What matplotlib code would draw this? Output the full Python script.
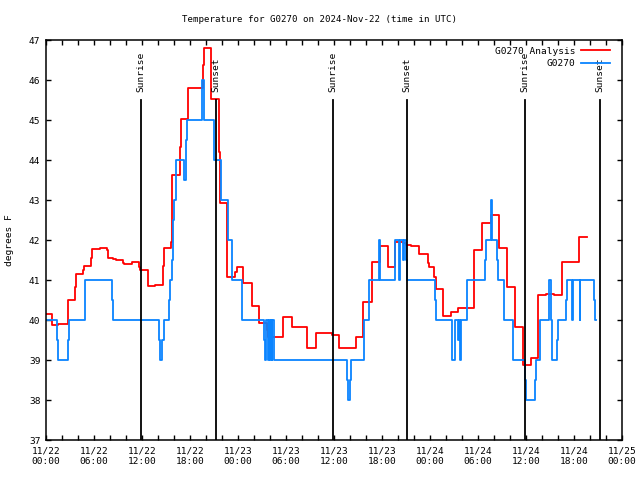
import numpy as np
import matplotlib
matplotlib.use("Agg")
import matplotlib.pyplot as plt
import matplotlib.dates as mdates

# hours after 2024-11-22 00:00 UTC, step values (deg F)
red_hours = [0.0, 0.7, 1.5, 2.7, 2.75, 3.65, 3.75, 4.65, 4.75, 5.65, 5.75, 6.75, 7.65, 7.8,
             8.4, 8.8, 9.65, 9.8, 10.7, 11.6, 11.8, 12.7, 12.8, 13.65, 13.8, 14.65, 14.8,
             15.6, 15.7, 15.8, 16.75, 16.85, 17.7, 18.55, 19.6, 19.75, 20.6, 21.6, 21.7,
             22.65, 23.6, 23.9, 24.65, 25.7, 26.65, 27.6, 27.75, 29.65, 30.7, 32.65, 33.7,
             35.7, 36.65, 37.75, 38.7, 39.65, 40.7, 41.75, 42.7, 43.65, 44.6, 45.0, 45.6,
             46.65, 47.7, 47.85, 48.5, 48.75, 49.6, 50.6, 51.55, 52.5, 53.55, 54.55, 55.6,
             56.6, 57.6, 58.6, 59.6, 60.6, 61.55, 62.5, 63.55, 64.55, 66.6, 67.6]
red_temps = [40.14, 39.87, 39.9, 40.23, 40.49, 40.82, 41.14, 41.25, 41.34, 41.54, 41.77,
             41.79, 41.74, 41.56, 41.53, 41.5, 41.43, 41.41, 41.46, 41.33, 41.24, 41.04,
             40.84, 40.87, 40.88, 41.35, 41.79, 41.96, 42.98, 43.63, 44.32, 45.02, 45.79,
             45.8, 46.37, 46.79, 45.52, 44.21, 42.92, 41.08, 41.2, 41.33, 40.92, 40.35,
             39.92, 39.75, 39.57, 40.08, 39.82, 39.29, 39.68, 39.63, 39.29, 39.31, 39.57,
             40.46, 41.46, 41.85, 41.32, 41.95, 41.92, 41.87, 41.85, 41.64, 41.43, 41.33,
             41.08, 40.77, 40.1, 40.2, 40.29, 40.3, 41.75, 42.43, 42.63, 41.79, 40.82,
             39.83, 38.88, 39.04, 40.62, 40.65, 40.62, 41.44, 42.07, 42.07]

obs_hours = [0.0, 1.4, 1.55, 2.75, 2.9, 4.9, 8.3, 8.4, 14.1, 14.2, 14.55, 14.7, 15.4, 15.5,
             15.75, 15.85, 16.0, 16.2, 17.3, 17.45, 17.55, 17.65, 19.55, 19.7, 21.0, 21.9,
             22.7, 23.3, 24.55, 27.25, 27.35, 27.55, 27.75, 27.85, 28.0, 28.1, 28.2, 28.3,
             28.45, 37.65, 37.75, 38.0, 38.1, 39.8, 40.35, 41.65, 41.75, 43.6, 44.15, 44.25,
             44.6, 44.7, 45.0, 45.15, 48.6, 48.7, 50.7, 51.1, 51.5, 51.6, 51.7, 51.9, 52.6,
             54.9, 55.05, 55.6, 55.75, 56.4, 56.55, 57.25, 57.3, 58.4, 59.9, 60.0, 61.1,
             61.2, 61.8, 62.85, 63.15, 63.3, 63.9, 64.0, 65.0, 65.1, 65.7, 65.85, 66.7,
             66.8, 68.45, 68.6, 68.75]
obs_temps = [40, 39.5, 39, 39.5, 40, 41, 40.5, 40, 39.5, 39, 39.5, 40, 40.5, 41,
             41.5, 42.5, 43, 44, 43.5, 44, 44.5, 45, 46, 45, 44, 43,
             42, 41, 40, 39.5, 39, 40, 39, 40, 39, 40, 39, 40,
             39, 38.5, 38, 38.5, 39, 40, 41, 42, 41, 42, 41, 42,
             41.5, 42, 41.5, 41, 40.5, 40, 39, 40, 39.5, 40, 39, 40, 41,
             41.5, 42, 43, 42, 41.5, 41, 40.5, 40, 39, 38.5, 38, 38.5,
             39, 40, 41, 40, 39, 39.5, 40, 40.5, 41, 40, 41, 40,
             41, 40.5, 40, 40]

sun_hours = [11.9, 21.25, 35.9, 45.15, 59.9, 69.2]
sun_labels = ["Sunrise", "Sunset", "Sunrise", "Sunset", "Sunrise", "Sunset"]

start = np.datetime64("2024-11-22T00:00")


def to_time(hours):
    return start + (np.array(hours) * 3600).astype("timedelta64[s]")


plt.rcParams["font.family"] = "DejaVu Sans Mono"
plt.rcParams["font.size"] = 6.5

fig = plt.figure(figsize=(6.4, 4.8), dpi=100)
ax = fig.add_axes([46 / 640, 40 / 480, 576 / 640, 400 / 480])

ax.step(to_time(red_hours), red_temps, where="post", color="#ff0000", lw=1.3,
        label="G0270 Analysis")
ax.step(to_time(obs_hours), obs_temps, where="post", color="#0a84ff", lw=1.3,
        label="G0270")

for h, name in zip(sun_hours, sun_labels):
    t = to_time([h])[0]
    ax.plot([t, t], [37, 45.5], color="black", lw=1.3)
    ax.text(t, 45.7, name, rotation=90, ha="center", va="bottom", fontsize=6.8)

ax.set_xlim(start, start + np.timedelta64(72, "h"))
ax.set_ylim(37, 47)
ax.set_yticks(range(37, 48))
ax.xaxis.set_major_locator(mdates.HourLocator(byhour=[0, 6, 12, 18]))
ax.xaxis.set_minor_locator(mdates.HourLocator(byhour=range(0, 24, 2)))
ax.xaxis.set_major_formatter(mdates.DateFormatter("%m/%d\n%H:%M"))
ax.tick_params(which="both", direction="in", top=True, right=True, length=3.5,
               width=1, pad=5)
ax.tick_params(axis="x", labelsize=6.8)
ax.tick_params(axis="y", labelsize=6.8, pad=4)
for s in ax.spines.values():
    s.set_linewidth(1.1)

ax.legend(loc="upper right", bbox_to_anchor=(1 - 5 / 576, 1), frameon=False,
          markerfirst=False, handlelength=3.1, fontsize=6.8, borderaxespad=0.3,
          labelspacing=0.35, handletextpad=0.6)

fig.text(0.5, 1 - 19 / 480, "Temperature for G0270 on 2024-Nov-22 (time in UTC)",
         ha="center", va="center", fontsize=6.6)
fig.text(10 / 640, 0.5, "degrees F", rotation=90, ha="center", va="center",
         fontsize=6.8)

fig.savefig("out.png", dpi=100)
